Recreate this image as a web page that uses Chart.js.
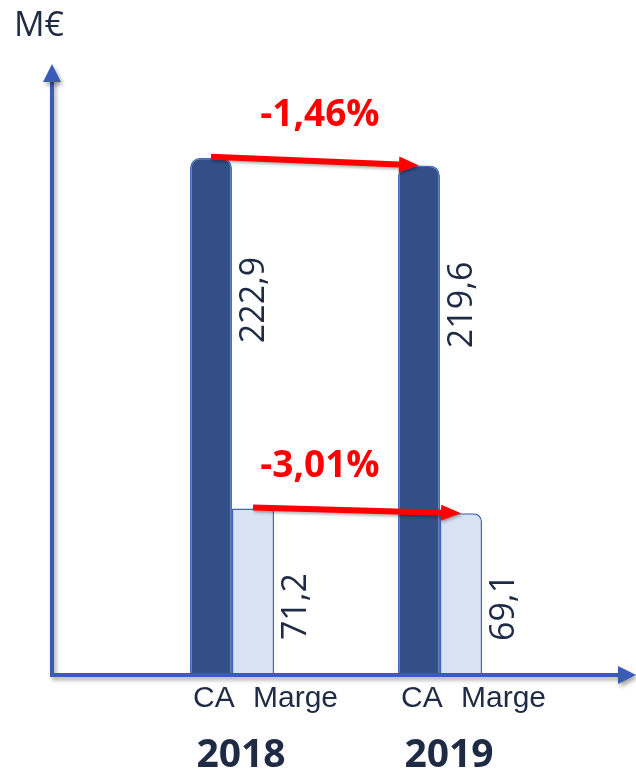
<!DOCTYPE html>
<html>
<head>
<meta charset="utf-8">
<script src="https://cdn.jsdelivr.net/npm/chart.js@4/dist/chart.umd.min.js"></script>
<style>
  html, body { margin: 0; padding: 0; background: #fff; }
  canvas { display: block; }
</style>
</head>
<body>
<canvas id="chart" width="636" height="774"></canvas>
<script>
// data
var years = ['2018', '2019'];
var seriesNames = ['CA', 'Marge'];
var caValues = [222.9, 219.6];
var margeValues = [71.2, 69.1];
var changeLabels = ['-1,46%', '-3,01%'];   // CA change, Marge change
var unitLabel = 'M€';

var axisBlue = '#3A5CB8';
var textNavy = '#1F2A44';

function fmt(v) {
    return v.toFixed(1).replace('.', ',');
}

function drawArrow(ctx, x1, y1, x2, y2) {
    var ang = Math.atan2(y2 - y1, x2 - x1);
    var head = 20, half = 8;
    var bx = x2 - head * Math.cos(ang), by = y2 - head * Math.sin(ang);
    ctx.save();
    ctx.shadowColor = 'rgba(0,0,0,0.3)';
    ctx.shadowBlur = 3;
    ctx.shadowOffsetX = 1;
    ctx.shadowOffsetY = 2;
    ctx.strokeStyle = '#FF0000';
    ctx.fillStyle = '#FF0000';
    ctx.lineWidth = 6;
    ctx.beginPath();
    ctx.moveTo(x1, y1);
    ctx.lineTo(bx, by);
    ctx.stroke();
    ctx.beginPath();
    ctx.moveTo(x2, y2);
    ctx.lineTo(bx + half * Math.sin(ang), by - half * Math.cos(ang));
    ctx.lineTo(bx - half * Math.sin(ang), by + half * Math.cos(ang));
    ctx.closePath();
    ctx.fill();
    ctx.restore();
}

var axesPlugin = {
    id: 'axesPlugin',
    beforeDatasetsDraw: function(chart) {
        var ctx = chart.ctx;
        var base = chart.scales.y.getPixelForValue(0) + 2;
        var ax = 52, top = 64, right = chart.width;
        ctx.save();
        ctx.shadowColor = 'rgba(0,0,0,0.35)';
        ctx.shadowBlur = 4;
        ctx.shadowOffsetX = 2;
        ctx.shadowOffsetY = 3;
        ctx.strokeStyle = axisBlue;
        ctx.fillStyle = axisBlue;
        ctx.lineWidth = 4;
        ctx.beginPath();
        ctx.moveTo(ax, top + 14);
        ctx.lineTo(ax, base);
        ctx.lineTo(right - 14, base);
        ctx.stroke();
        // arrow heads
        ctx.beginPath();
        ctx.moveTo(ax, top);
        ctx.lineTo(ax - 9, top + 18);
        ctx.lineTo(ax + 9, top + 18);
        ctx.closePath();
        ctx.fill();
        ctx.beginPath();
        ctx.moveTo(right, base);
        ctx.lineTo(right - 18, base - 9);
        ctx.lineTo(right - 18, base + 9);
        ctx.closePath();
        ctx.fill();
        ctx.restore();

        ctx.save();
        ctx.fillStyle = textNavy;
        ctx.font = '34px "Open Sans"';
        ctx.textAlign = 'left';
        ctx.textBaseline = 'alphabetic';
        ctx.fillText(unitLabel, 14, 36);
        ctx.restore();
    },
    afterDatasetsDraw: function(chart) {
        var ctx = chart.ctx;
        var ca = chart.getDatasetMeta(0).data;
        var mg = chart.getDatasetMeta(1).data;
        var base = chart.scales.y.getPixelForValue(0);

        // rotated value labels right of each bar
        ctx.save();
        ctx.fillStyle = textNavy;
        ctx.font = '34px "Open Sans"';
        ctx.textAlign = 'left';
        ctx.textBaseline = 'middle';
        [[ca, caValues, 0.36], [mg, margeValues, 0.8]].forEach(function(s) {
            s[0].forEach(function(bar, i) {
                var x = bar.x + bar.width / 2 + 22;
                var y = bar.y + s[2] * (bar.base - bar.y);
                ctx.save();
                ctx.translate(x, y);
                ctx.rotate(-Math.PI / 2);
                ctx.fillText(fmt(s[1][i]), 0, 0);
                ctx.restore();
            });
        });
        ctx.restore();

        // change arrows + labels
        [ca, mg].forEach(function(bars, k) {
            drawArrow(ctx, bars[0].x, bars[0].y - 1, bars[1].x, bars[1].y);
            ctx.save();
            ctx.fillStyle = '#FF0000';
            ctx.font = 'bold 37px "Open Sans"';
            ctx.textAlign = 'center';
            ctx.textBaseline = 'middle';
            var lx = (ca[0].x + ca[1].x) / 2 + 5;
            var ly = Math.min(bars[0].y, bars[1].y) - 42;
            ctx.fillText(changeLabels[k], lx, ly);
            ctx.restore();
        });

        // category labels under bars
        ctx.save();
        ctx.fillStyle = textNavy;
        ctx.textBaseline = 'alphabetic';
        years.forEach(function(yr, i) {
            ctx.font = '30px "Liberation Sans", Arial';
            ctx.textAlign = 'left';
            ctx.fillText(seriesNames[0], ca[i].x - ca[i].width / 2 + 3, base + 34);
            ctx.fillText(seriesNames[1], mg[i].x - mg[i].width / 2 + 21, base + 34);
            ctx.font = 'bold 39px "Open Sans"';
            ctx.textAlign = 'center';
            var gx = (ca[i].x + mg[i].x) / 2;
            ctx.fillText(yr, gx + 9, base + 94);
        });
        ctx.restore();
    }
};

new Chart(document.getElementById('chart'), {
    type: 'bar',
    data: {
        labels: years,
        datasets: [{
            label: seriesNames[0],
            data: caValues,
            backgroundColor: '#344F88',
            borderColor: '#4A6BBF',
            borderWidth: 1.5,
            borderSkipped: 'bottom',
            borderRadius: {topLeft: 10, topRight: 10, bottomLeft: 0, bottomRight: 0},
            categoryPercentage: 0.404,
            barPercentage: 1
        }, {
            label: seriesNames[1],
            data: margeValues,
            backgroundColor: '#D7E2F3',
            borderColor: '#4465B8',
            borderWidth: 1.5,
            borderSkipped: 'bottom',
            borderRadius: function(c) {
                return c.dataIndex === 1 ? {topLeft: 0, topRight: 8, bottomLeft: 0, bottomRight: 0} : 0;
            },
            categoryPercentage: 0.404,
            barPercentage: 1
        }]
    },
    options: {
        responsive: false,
        devicePixelRatio: 1,
        animation: false,
        layout: {
            padding: {left: 128, right: 92, top: 72, bottom: 101}
        },
        plugins: {
            legend: {display: false},
            tooltip: {enabled: false}
        },
        scales: {
            x: {display: false},
            y: {display: false, min: 0, max: 260}
        }
    },
    plugins: [axesPlugin]
});
</script>
</body>
</html>
